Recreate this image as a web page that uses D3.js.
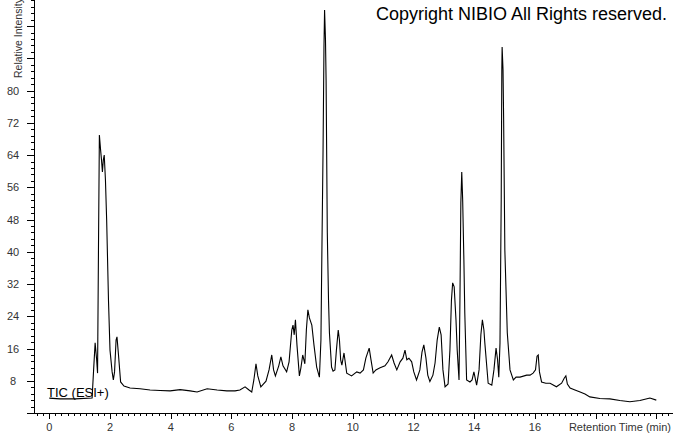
<!DOCTYPE html>
<html>
<head>
<meta charset="utf-8">
<script src="https://cdn.jsdelivr.net/npm/d3@7"></script>
<style>
  body { margin: 0; background: #fff; }
  svg { display: block; font-family: "Liberation Sans", Arial, sans-serif; }
</style>
</head>
<body>
<svg id="chart" width="673" height="433"></svg>
<script>
// retention time (min) and relative intensity
var retentionTime = [0, 0.35, 0.85, 1.41, 1.46, 1.51, 1.56, 1.59, 1.62, 1.65, 1.69, 1.72, 1.75, 1.78, 1.81, 1.85, 1.89, 1.95, 2.0, 2.07,
  2.11, 2.15, 2.2, 2.23, 2.28, 2.35, 2.46, 2.66, 2.99, 3.32, 3.65, 3.98, 4.31, 4.64, 4.87, 5.2, 5.53, 5.85, 6.12, 6.28,
  6.45, 6.58, 6.67, 6.74, 6.81, 6.87, 6.97, 7.14, 7.24, 7.33, 7.39, 7.45, 7.56, 7.63, 7.7, 7.82, 7.9, 7.99, 8.03, 8.07,
  8.11, 8.16, 8.24, 8.29, 8.35, 8.42, 8.47, 8.52, 8.57, 8.65, 8.72, 8.81, 8.9, 8.95, 8.97, 9.02, 9.05, 9.07, 9.1, 9.12,
  9.16, 9.2, 9.23, 9.3, 9.35, 9.41, 9.46, 9.52, 9.56, 9.6, 9.64, 9.71, 9.8, 9.96, 10.13, 10.24, 10.35, 10.43, 10.54, 10.6,
  10.67, 10.76, 10.9, 11.06, 11.16, 11.28, 11.36, 11.45, 11.56, 11.65, 11.72, 11.78, 11.85, 11.94, 12.01, 12.1, 12.21, 12.28, 12.34, 12.41,
  12.47, 12.54, 12.64, 12.71, 12.78, 12.85, 12.91, 12.97, 13.04, 13.14, 13.2, 13.25, 13.29, 13.34, 13.4, 13.44, 13.5, 13.53, 13.56, 13.59,
  13.62, 13.66, 13.69, 13.75, 13.86, 13.93, 13.99, 14.08, 14.16, 14.22, 14.27, 14.32, 14.35, 14.46, 14.58, 14.65, 14.72, 14.77, 14.81, 14.85,
  14.89, 14.91, 14.92, 14.95, 14.97, 15.01, 15.09, 15.18, 15.29, 15.38, 15.51, 15.73, 15.84, 15.94, 16.02, 16.07, 16.11, 16.15, 16.22, 16.36,
  16.5, 16.71, 16.88, 16.97, 17.02, 17.07, 17.16, 17.32, 17.49, 17.65, 17.81, 18.14, 18.47, 18.8, 19.13, 19.46, 19.79, 20.0];
var intensity = [3.7, 3.5, 3.5, 3.7, 10.7, 17.4, 13.2, 9.9, 40.4, 69.0, 65.3, 62.8, 59.8, 62.8, 64.0, 57.8, 47.9, 28.0, 15.6, 10.2,
  8.2, 10.2, 18.1, 18.9, 14.4, 7.7, 6.7, 6.2, 6.0, 5.7, 5.6, 5.5, 5.8, 5.5, 5.2, 6.0, 5.7, 5.5, 5.5, 5.7,
  6.5, 5.7, 5.2, 8.2, 12.2, 9.2, 6.5, 7.9, 10.7, 14.4, 10.7, 9.2, 11.7, 13.9, 11.7, 10.2, 12.7, 20.6, 21.8, 19.4,
  23.1, 16.9, 9.2, 11.2, 14.4, 12.2, 20.6, 25.6, 23.6, 21.8, 16.9, 11.4, 8.9, 18.1, 32.3, 65.3, 90.8, 100, 92.6, 82.6,
  44.7, 28.0, 19.9, 11.4, 10.4, 10.7, 15.6, 20.6, 18.1, 13.2, 11.9, 14.9, 9.9, 9.2, 10.2, 9.9, 10.7, 13.6, 16.1, 13.2,
  9.9, 10.7, 11.2, 11.7, 12.7, 14.4, 12.4, 10.7, 12.7, 13.6, 15.6, 13.2, 13.6, 12.7, 10.2, 8.2, 10.7, 15.1, 16.9, 13.6,
  9.4, 7.8, 9.4, 12.4, 18.1, 21.3, 19.4, 10.7, 6.5, 7.2, 15.6, 28.0, 32.3, 31.3, 23.1, 15.6, 8.2, 28.0, 52.1, 59.8,
  52.9, 38.0, 24.8, 8.2, 7.7, 8.2, 10.2, 6.9, 10.7, 19.4, 23.1, 20.6, 17.4, 7.4, 6.9, 10.7, 16.1, 13.2, 8.9, 17.4,
  52.9, 85.1, 90.8, 85.1, 72.7, 40.4, 19.9, 10.7, 8.2, 8.9, 8.9, 9.4, 9.4, 9.9, 10.7, 14.1, 14.4, 10.2, 7.7, 7.4,
  7.4, 6.5, 7.4, 8.7, 9.2, 7.2, 6.2, 5.7, 5.2, 4.7, 4.0, 3.6, 3.5, 3.1, 2.8, 3.1, 3.7, 3.2];

var yLabels = [8, 16, 24, 32, 40, 48, 56, 64, 72, 80];
var xLabels = [0, 2, 4, 6, 8, 10, 12, 14, 16];

var svg = d3.select('#chart');
var x = d3.scaleLinear().domain([0, 20]).range([49.3, 656.3]);
var y = d3.scaleLinear().domain([0, 100]).range([413, 10]);

var axisColor = '#000';
var labelColor = '#333';

// y axis: minor ticks every 1.6, majors every 8
var yMinor = d3.range(0, 103, 1.6);
var yMajor = d3.range(0, 103, 8);
svg.append('g')
    .attr('transform', 'translate(34,0)')
    .call(d3.axisLeft(y).tickValues(yMinor).tickSize(3).tickFormat(''))
    .call(g => g.select('.domain').remove());
svg.append('g')
    .attr('transform', 'translate(34,0)')
    .call(d3.axisLeft(y).tickValues(yMajor).tickSize(7).tickFormat(''))
    .call(g => g.select('.domain').remove());
svg.selectAll('.ylab')
    .data(yLabels)
    .enter().append('text')
    .attr('class', 'ylab')
    .attr('x', 13)
    .attr('y', d => y(d) + 4)
    .attr('text-anchor', 'middle')
    .style('font-size', '11px')
    .style('fill', labelColor)
    .text(d => d);

// x axis: minor every 0.2 min, majors every 2
var xMinor = d3.range(-0.4, 20.5, 0.2);
var xMajor = d3.range(0, 21, 2);
svg.append('g')
    .attr('transform', 'translate(0,413)')
    .call(d3.axisBottom(x).tickValues(xMinor).tickSize(3).tickFormat(''))
    .call(g => g.select('.domain').remove());
svg.append('g')
    .attr('transform', 'translate(0,413)')
    .call(d3.axisBottom(x).tickValues(xMajor).tickSize(6).tickFormat(''))
    .call(g => g.select('.domain').remove());
svg.selectAll('.xlab')
    .data(xLabels)
    .enter().append('text')
    .attr('class', 'xlab')
    .attr('x', d => x(d))
    .attr('y', 431)
    .attr('text-anchor', 'middle')
    .style('font-size', '11px')
    .style('fill', labelColor)
    .text(d => d);

svg.selectAll('.tick line').attr('stroke', axisColor).attr('shape-rendering', 'crispEdges');

// axis lines
svg.append('line').attr('x1', 34).attr('x2', 34).attr('y1', 0).attr('y2', 413)
    .attr('stroke', axisColor).attr('shape-rendering', 'crispEdges');
svg.append('line').attr('x1', 34).attr('x2', 673).attr('y1', 413).attr('y2', 413)
    .attr('stroke', axisColor).attr('shape-rendering', 'crispEdges');

// titles
svg.append('text')
    .attr('transform', 'translate(22,78) rotate(-90)')
    .style('font-size', '10.5px')
    .style('fill', labelColor)
    .text('Relative Intensity');
svg.append('text')
    .attr('x', 671)
    .attr('y', 431)
    .attr('text-anchor', 'end')
    .style('font-size', '11px')
    .style('fill', labelColor)
    .text('Retention Time (min)');

// trace
var line = d3.line()
    .x((d, i) => x(retentionTime[i]))
    .y(d => y(d));
svg.append('path')
    .datum(intensity)
    .attr('d', line)
    .attr('fill', 'none')
    .attr('stroke', '#000')
    .attr('stroke-width', 1.1);

svg.append('text')
    .attr('x', 47)
    .attr('y', 397)
    .style('font-size', '13px')
    .style('fill', '#000')
    .text('TIC (ESI+)');

svg.append('text')
    .attr('x', 376)
    .attr('y', 20)
    .style('font-size', '18px')
    .style('fill', '#000')
    .text('Copyright NIBIO All Rights reserved.');
</script>
</body>
</html>
